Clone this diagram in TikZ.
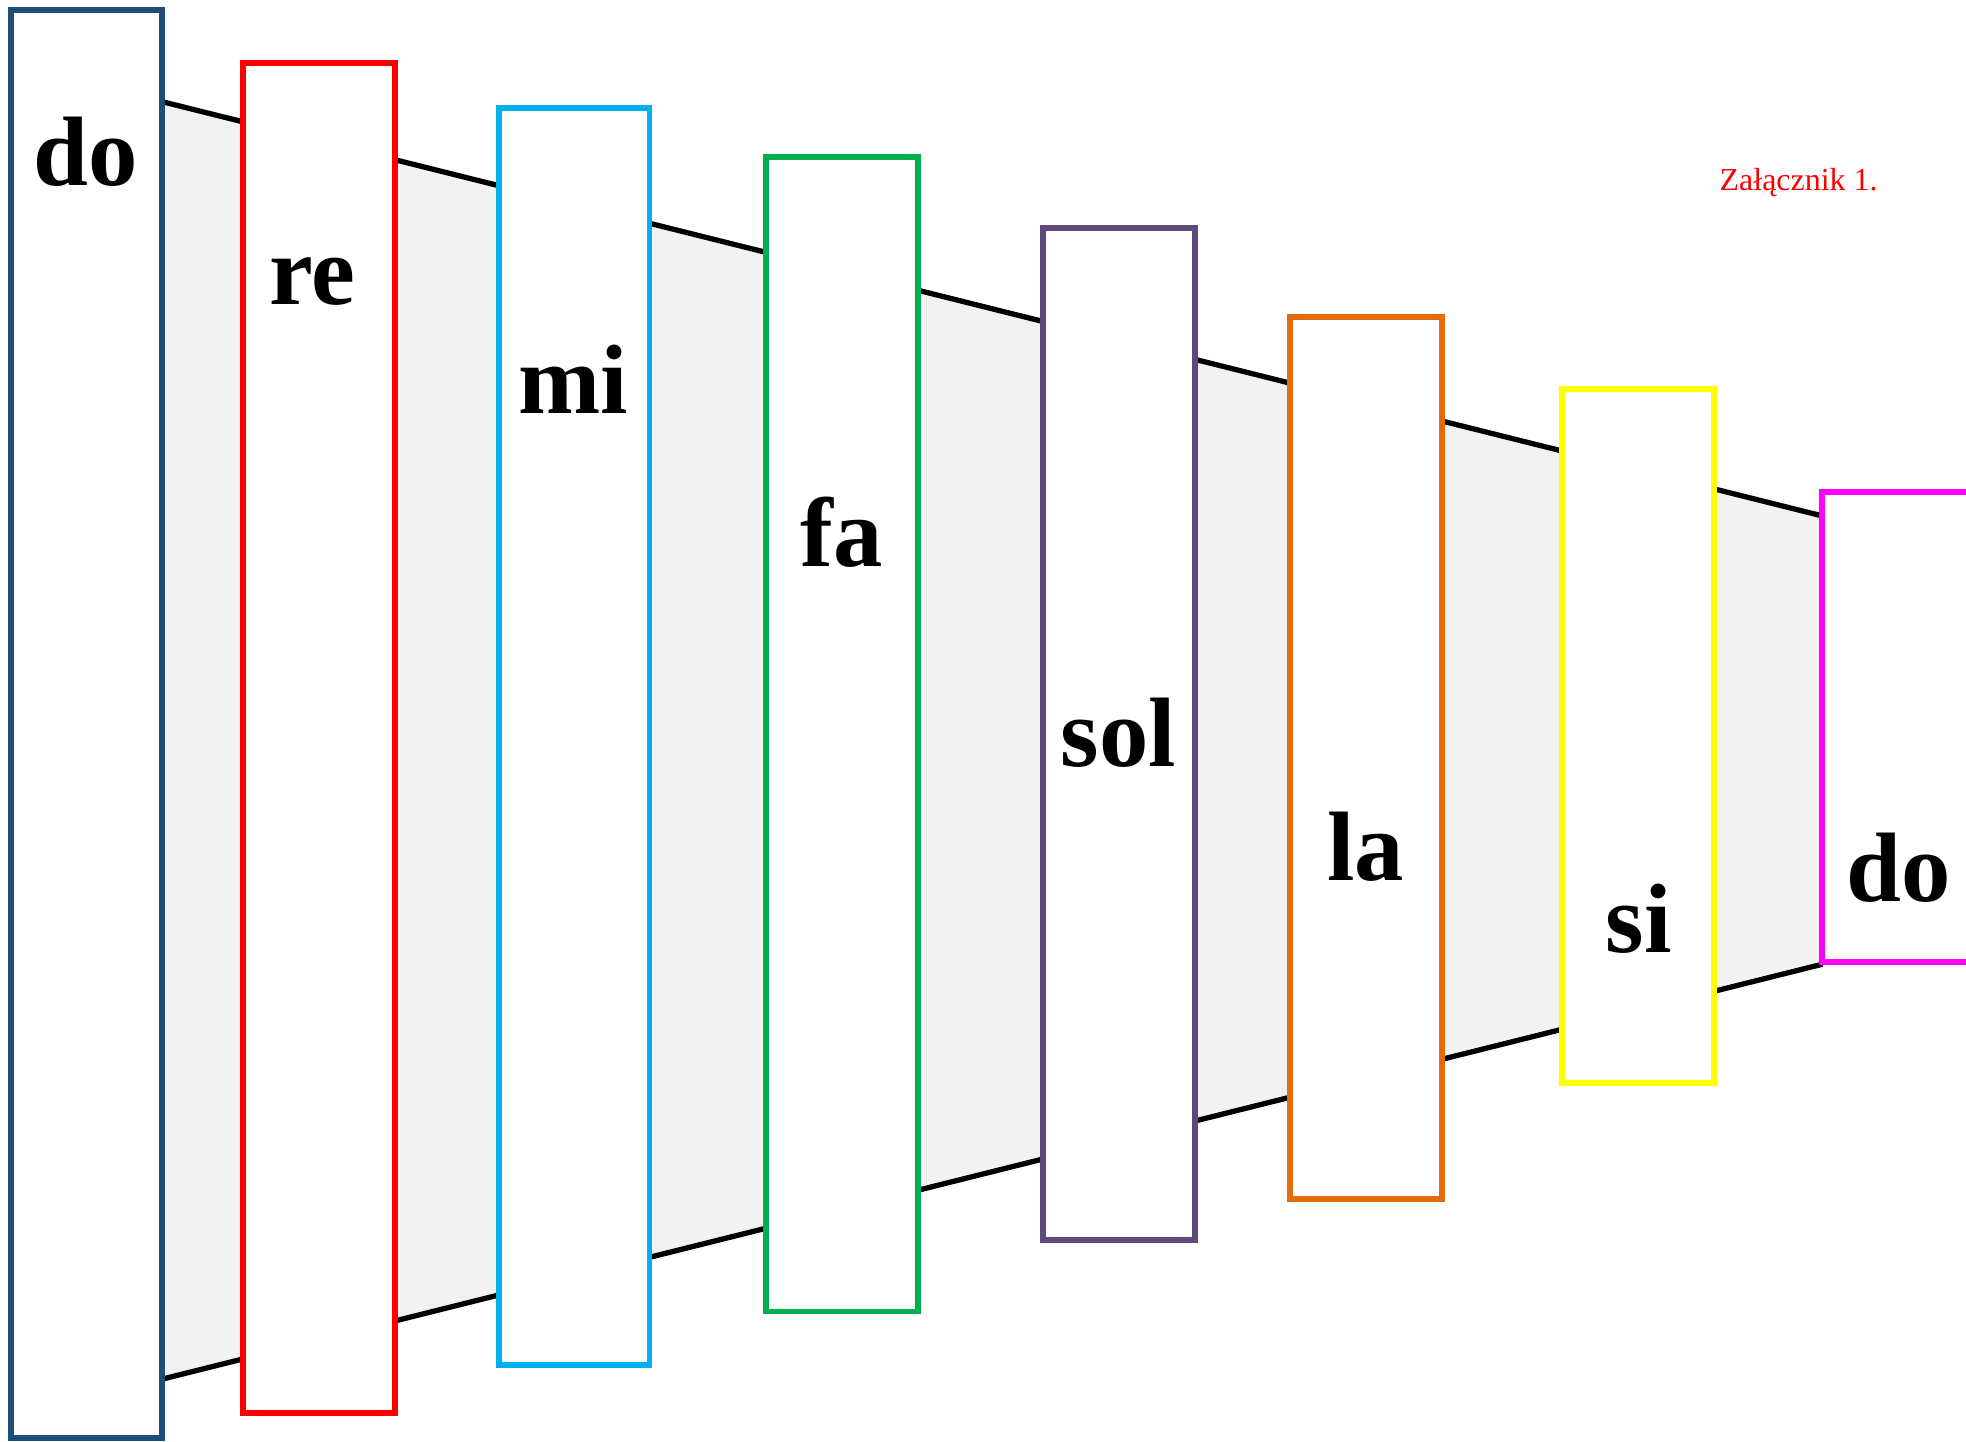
\documentclass[tikz,border=0pt]{standalone}
\usepackage{fontspec}
\setmainfont{Liberation Serif}
\usetikzlibrary{fit}
\definecolor{cdoA}{HTML}{1F4E79}
\definecolor{cre}{HTML}{FF0000}
\definecolor{cmi}{HTML}{00B0F0}
\definecolor{cfa}{HTML}{00B050}
\definecolor{csol}{HTML}{5F497A}
\definecolor{cla}{HTML}{E36C09}
\definecolor{csi}{HTML}{FFFF00}
\definecolor{cdoB}{HTML}{FF00FF}
\definecolor{bandgray}{HTML}{F2F2F2}
\begin{document}
\begin{tikzpicture}[x=0.02cm,y=-0.02cm,
  keybox/.style={draw=#1, fill=white, line width=2.7pt, inner sep=0pt},
  syl/.style={anchor=base, font=\fontsize{44.8}{50}\selectfont\bfseries, inner sep=0pt},
  edgeline/.style={black, line width=2.4pt}]
\useasboundingbox (0,0) rectangle (1568,1150);
% band
\coordinate (tl) at (129,81);
\coordinate (tr) at (1453.5,411.5);
\coordinate (br) at (1453.5,769);
\coordinate (bl) at (129,1100);
\fill[bandgray] (tl) -- (tr) -- (br) -- (bl) -- cycle;
\draw[edgeline] (tl) -- (tr);
\draw[edgeline] (bl) -- (br);
% boxes
\node[keybox=cdoA, fit={(9,8) (129,1147)}] (do1) {};
\node[keybox=cre, fit={(194,50) (315,1127)}] (re) {};
\node[keybox=cmi, fit={(398,86) (518,1089)}] (mi) {};
\node[keybox=cfa, fit={(611,125) (732,1046)}] (fa) {};
\node[keybox=csol, fit={(832,182) (953,989)}] (sol) {};
\node[keybox=cla, fit={(1029,253) (1150,956)}] (la) {};
\node[keybox=csi, fit={(1246,310) (1367,864)}] (si) {};
\node[keybox=cdoB, fit={(1453.5,392.5) (1620,767.5)}] (do2) {};
% labels
\node[syl] (tdo1) at (68.5,148) {do};
\node[syl] (tre) at (249,243) {re};
\node[syl] (tmi) at (457,330) {mi};
\node[syl] (tfa) at (671,451.5) {fa};
\node[syl] (tsol) at (892,611) {sol};
\node[syl] (tla) at (1089,702) {la};
\node[syl] (tsi) at (1307,760) {si};
\node[syl] (tdo2) at (1514,719) {do};
\node[anchor=base, inner sep=0pt, text=red, font=\fontsize{14.5}{17}\selectfont] (zal) at (1434.5,152) {Załącznik 1.};
\end{tikzpicture}
\end{document}
